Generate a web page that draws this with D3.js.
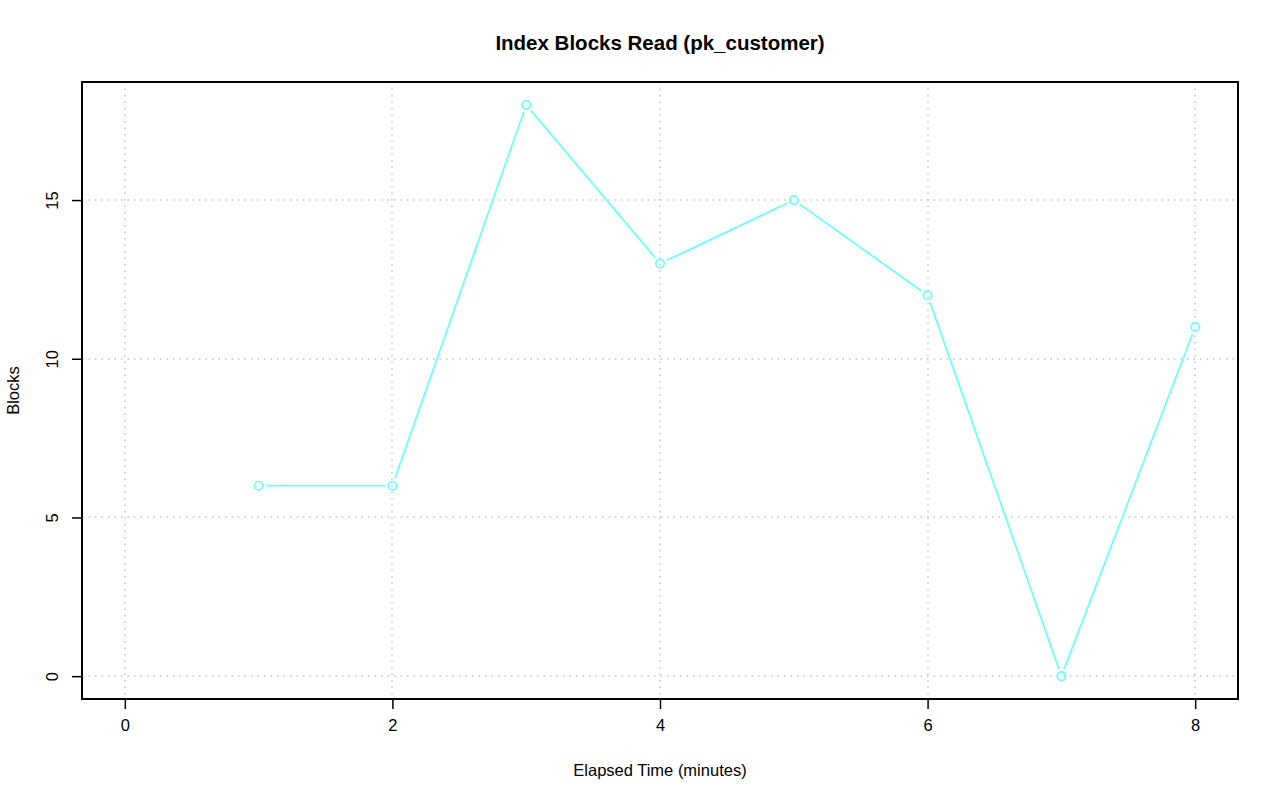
<!doctype html>
<html>
<head>
  <meta charset="utf-8">
  <title>Index Blocks Read (pk_customer)</title>
  <style>
  body{ margin:0; background:#fff; font-family: "Liberation Sans", Helvetica, Arial, sans-serif; }
  </style>
</head>
<body>
  <svg></svg>
  <script src="https://d3js.org/d3.v7.min.js"></script>
  <script>
  var minutes = [1, 2, 3, 4, 5, 6, 7, 8];
  var blocks = [6, 6, 18, 13, 15, 12, 0, 11];
  var xTicks = [0, 2, 4, 6, 8];
  var yTicks = [0, 5, 10, 15];

  var width = 1280, height = 801;
  var box = { left: 82, right: 1238, top: 82, bottom: 699 };
  var font = '"Liberation Sans", Arial, sans-serif';

  var svg = d3.select('svg').attr('width', width).attr('height', height)
    .attr('font-family', font);

  // R style: 4% padding on each side of the data range
  var x = d3.scaleLinear().domain([-0.32, 8.32]).range([box.left, box.right]);
  var y = d3.scaleLinear().domain([-0.72, 18.72]).range([box.bottom, box.top]);

  // grid
  var grid = svg.append('g').attr('stroke', '#c4c4c4').attr('stroke-dasharray', '1.5,5').attr('stroke-width', 1.5);
  grid.selectAll('.gx').data(xTicks).enter().append('line')
    .attr('x1', function(d){ return Math.round(x(d)); })
    .attr('x2', function(d){ return Math.round(x(d)); })
    .attr('y1', box.top).attr('y2', box.bottom);
  grid.selectAll('.gy').data(yTicks).enter().append('line')
    .attr('y1', function(d){ return Math.round(y(d)); })
    .attr('y2', function(d){ return Math.round(y(d)); })
    .attr('x1', box.left).attr('x2', box.right);

  // axes
  var xAxis = d3.axisBottom(x).tickValues(xTicks).tickSize(10).tickPadding(12).tickFormat(d3.format('d'));
  var gx = svg.append('g').attr('transform', 'translate(0,' + box.bottom + ')').call(xAxis);
  gx.select('.domain').remove();
  var yAxis = d3.axisLeft(y).tickValues(yTicks).tickSize(10).tickPadding(12).tickFormat(d3.format('d'));
  var gy = svg.append('g').attr('transform', 'translate(' + box.left + ',0)').call(yAxis);
  gy.select('.domain').remove();
  svg.selectAll('.tick line').attr('stroke', '#000').attr('stroke-width', 1.5);
  gx.attr('font-size', 16.5).attr('font-family', font);
  gy.attr('font-size', 16.5).attr('font-family', font);
  svg.selectAll('.tick text').attr('fill', '#000');
  gx.selectAll('.tick text').attr('dy', '0.71em').attr('y', 20);
  gy.selectAll('.tick text')
    .attr('text-anchor', 'middle')
    .attr('dy', 0)
    .attr('x', 0)
    .attr('transform', 'translate(-24,0) rotate(-90)');

  // box
  svg.append('rect')
    .attr('x', box.left).attr('y', box.top)
    .attr('width', box.right - box.left).attr('height', box.bottom - box.top)
    .attr('fill', 'none').attr('stroke', '#000').attr('stroke-width', 2);

  // line with gaps at points (type = "b")
  var pts = minutes.map(function(m, i){ return [x(m), y(blocks[i])]; });
  var gap = 7.5;
  var segs = [];
  for (var i = 0; i < pts.length - 1; i++) {
    var a = pts[i], b = pts[i + 1];
    var dx = b[0] - a[0], dy = b[1] - a[1];
    var len = Math.sqrt(dx * dx + dy * dy);
    if (len <= 2 * gap) continue;
    var ux = dx / len, uy = dy / len;
    segs.push([a[0] + ux * gap, a[1] + uy * gap, b[0] - ux * gap, b[1] - uy * gap]);
  }
  svg.append('g').selectAll('line').data(segs).enter().append('line')
    .attr('x1', function(d){ return d[0]; }).attr('y1', function(d){ return d[1]; })
    .attr('x2', function(d){ return d[2]; }).attr('y2', function(d){ return d[3]; })
    .attr('stroke', '#66ffff').attr('stroke-width', 1.7);

  svg.append('g').selectAll('circle').data(minutes).enter().append('circle')
    .attr('cx', function(d){ return x(d); })
    .attr('cy', function(d, i){ return y(blocks[i]); })
    .attr('r', 4.2)
    .attr('fill', 'none').attr('stroke', '#66ffff').attr('stroke-width', 1.7);

  // titles
  svg.append('text').attr('x', (box.left + box.right) / 2).attr('y', 50)
    .attr('text-anchor', 'middle').attr('font-size', 20.5).attr('font-weight', 'bold')
    .text('Index Blocks Read (pk_customer)');
  svg.append('text').attr('x', (box.left + box.right) / 2).attr('y', 776)
    .attr('text-anchor', 'middle').attr('font-size', 16.5)
    .text('Elapsed Time (minutes)');
  svg.append('text')
    .attr('transform', 'translate(19,' + ((box.top + box.bottom) / 2) + ') rotate(-90)')
    .attr('text-anchor', 'middle').attr('font-size', 16.5)
    .text('Blocks');
  </script>
</body>
</html>
